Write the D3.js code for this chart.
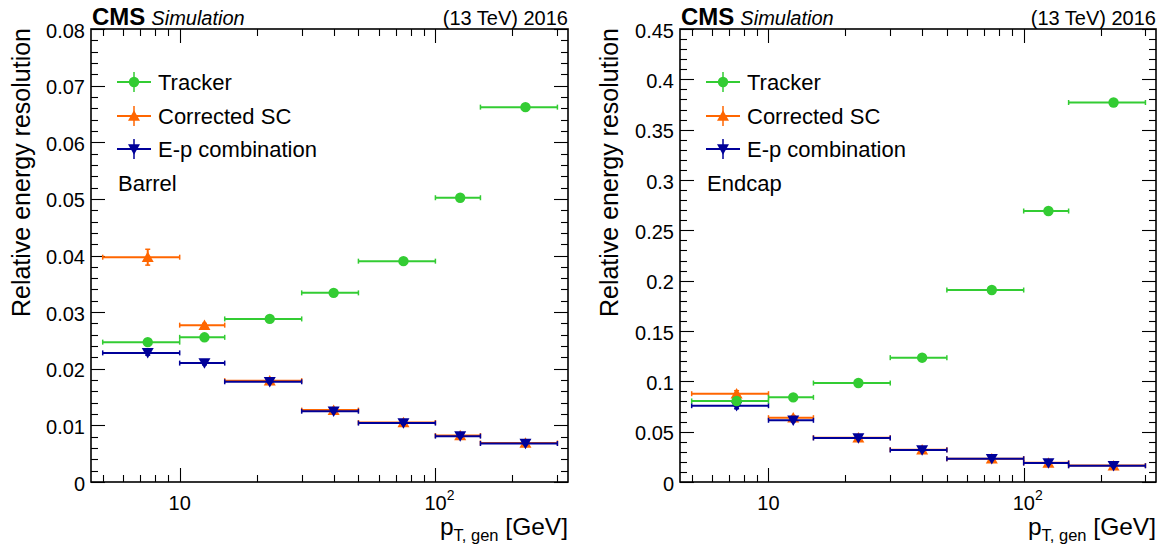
<!DOCTYPE html>
<html>
<head>
<meta charset="utf-8">
<script src="https://cdn.jsdelivr.net/npm/d3@7"></script>
<style>
  html, body { margin: 0; padding: 0; background: #fff; }
  svg { display: block; }
  text { font-family: "Liberation Sans", Arial, Helvetica, sans-serif; fill: #000; }
</style>
</head>
<body>
<svg id="chart" width="1163" height="548"></svg>
<script>
// ---------------- data ----------------
const binEdges   = [5, 10, 15, 30, 50, 100, 150, 300];
const binCenters = [7.5, 12.5, 22.5, 40, 75, 125, 225];

const seriesNames = ["Tracker", "Corrected SC", "E-p combination"];

const barrelTracker = [0.0247, 0.02555, 0.0288, 0.0334, 0.0390, 0.0502, 0.0662];
const barrelSC      = [0.0397, 0.0277, 0.0179, 0.0127, 0.0105, 0.0082, 0.0069];
const barrelEp      = [0.0228, 0.0210, 0.0177, 0.0125, 0.0104, 0.0081, 0.0068];
const barrelSCErr   = [0.0014, 0.0003, 0.0002, 0.0002, 0.0002, 0.0002, 0.0002];
const barrelEpErr   = [0.0004, 0.0003, 0.0002, 0.0002, 0.0002, 0.0002, 0.0002];
const barrelTrErr   = [0.0002, 0.0002, 0.0002, 0.0002, 0.0002, 0.0002, 0.0002];

const endcapTracker = [0.0805, 0.0841, 0.0983, 0.1235, 0.1907, 0.2692, 0.3770];
const endcapSC      = [0.0877, 0.0639, 0.0440, 0.0321, 0.0232, 0.0190, 0.0163];
const endcapEp      = [0.0758, 0.0613, 0.0437, 0.0318, 0.0231, 0.0188, 0.0161];
const endcapSCErr   = [0.0030, 0.0020, 0.0010, 0.0010, 0.0008, 0.0008, 0.0008];
const endcapEpErr   = [0.0030, 0.0015, 0.0010, 0.0010, 0.0008, 0.0008, 0.0008];
const endcapTrErr   = [0.0010, 0.0010, 0.0010, 0.0010, 0.0010, 0.0010, 0.0010];

const barrelYTicks  = [0, 0.01, 0.02, 0.03, 0.04, 0.05, 0.06, 0.07, 0.08];
const barrelYLabels = ["0", "0.01", "0.02", "0.03", "0.04", "0.05", "0.06", "0.07", "0.08"];
const endcapYTicks  = [0, 0.05, 0.1, 0.15, 0.2, 0.25, 0.3, 0.35, 0.4, 0.45];
const endcapYLabels = ["0", "0.05", "0.1", "0.15", "0.2", "0.25", "0.3", "0.35", "0.4", "0.45"];

const xMajorTicks = [10, 100];
const xMinorTicks = [5, 6, 7, 8, 9, 20, 30, 40, 50, 60, 70, 80, 90, 200, 300];
const xDomain = [4.5, 330];

// ---------------- style ----------------
const COLORS = { tracker: "#33cc33", sc: "#ff6600", ep: "#000099" };
const FONT = '"Liberation Sans", Arial, Helvetica, sans-serif';

const svg = d3.select("#chart");

const panels = [
  { left: 91, right: 568, top: 29, bottom: 482, yMax: 0.08, yMinorStep: 0.002,
    yTicks: barrelYTicks, yLabels: barrelYLabels, region: "Barrel", titleX: 30,
    tracker: barrelTracker, sc: barrelSC, ep: barrelEp,
    trErr: barrelTrErr, scErr: barrelSCErr, epErr: barrelEpErr },
  { left: 680, right: 1156, top: 29, bottom: 482, yMax: 0.45, yMinorStep: 0.01,
    yTicks: endcapYTicks, yLabels: endcapYLabels, region: "Endcap", titleX: 618,
    tracker: endcapTracker, sc: endcapSC, ep: endcapEp,
    trErr: endcapTrErr, scErr: endcapSCErr, epErr: endcapEpErr }
];

function drawPanel(p) {
  const g = svg.append("g");
  const x = d3.scaleLog().domain(xDomain).range([p.left, p.right]);
  const y = d3.scaleLinear().domain([0, p.yMax]).range([p.bottom, p.top]);

  const W = p.right - p.left, H = p.bottom - p.top;

  const yMinor = d3.range(0, p.yMax + 1e-9, p.yMinorStep);
  const tickG = g.append("g").attr("stroke", "#000").attr("stroke-width", 1.1);
  yMinor.forEach(v => {
    const isMajor = p.yTicks.some(t => Math.abs(t - v) < p.yMinorStep / 10);
    const len = isMajor ? 14 : 7;
    const yy = Math.round(y(v)) + 0.5;
    tickG.append("line").attr("x1", p.left).attr("x2", p.left + len).attr("y1", yy).attr("y2", yy);
    tickG.append("line").attr("x1", p.right).attr("x2", p.right - len).attr("y1", yy).attr("y2", yy);
  });
  xMinorTicks.concat(xMajorTicks).forEach(v => {
    const isMajor = xMajorTicks.includes(v);
    const len = isMajor ? 14 : 7;
    const xx = Math.round(x(v)) + 0.5;
    tickG.append("line").attr("x1", xx).attr("x2", xx).attr("y1", p.bottom).attr("y2", p.bottom - len);
    tickG.append("line").attr("x1", xx).attr("x2", xx).attr("y1", p.top).attr("y2", p.top + len);
  });

  // y tick labels
  const yLab = d3.axisLeft(y).tickValues(p.yTicks).tickSize(0).tickPadding(0)
    .tickFormat((d, i) => p.yLabels[i]);
  const yl = g.append("g").attr("transform", `translate(${p.left - 6},0)`).call(yLab);
  yl.select(".domain").remove();
  yl.selectAll("text").attr("font-family", FONT).attr("font-size", 20).attr("fill", "#000")
    .attr("dy", "0.4em");

  // x tick labels
  const xl = g.append("g");
  xl.append("text").attr("x", x(10)).attr("y", 510).attr("text-anchor", "middle")
    .attr("font-size", 20).text("10");
  const t2 = xl.append("text").attr("x", x(100) + 4).attr("y", 510).attr("text-anchor", "middle")
    .attr("font-size", 20);
  t2.append("tspan").text("10");
  t2.append("tspan").attr("font-size", 14).attr("dy", -10).text("2");

  // frame
  g.append("rect").attr("x", p.left).attr("y", p.top).attr("width", W).attr("height", H)
    .attr("fill", "none").attr("stroke", "#000").attr("stroke-width", 1.6);

  // ----- data -----
  const series = [
    { key: "sc", vals: p.sc, err: p.scErr, color: COLORS.sc, marker: "up" },
    { key: "ep", vals: p.ep, err: p.epErr, color: COLORS.ep, marker: "down" },
    { key: "tracker", vals: p.tracker, err: p.trErr, color: COLORS.tracker, marker: "circle" }
  ];
  const dg = g.append("g");
  series.forEach(s => {
    const sg = dg.append("g");
    s.vals.forEach((v, i) => {
      const x0 = x(binEdges[i]), x1 = x(binEdges[i + 1]), xc = x(binCenters[i]);
      const yc = y(v);
      sg.append("line").attr("x1", x0).attr("x2", x1).attr("y1", yc).attr("y2", yc)
        .attr("stroke", s.color).attr("stroke-width", 2);
      [x0, x1].forEach(xe => sg.append("line").attr("x1", xe).attr("x2", xe)
        .attr("y1", yc - 2.5).attr("y2", yc + 2.5).attr("stroke", s.color).attr("stroke-width", 1.5));
      const ylo = y(v - s.err[i]), yhi = y(v + s.err[i]);
      sg.append("line").attr("x1", xc).attr("x2", xc).attr("y1", ylo).attr("y2", yhi)
        .attr("stroke", s.color).attr("stroke-width", 2);
      [ylo, yhi].forEach(ye => sg.append("line").attr("x1", xc - 2.5).attr("x2", xc + 2.5)
        .attr("y1", ye).attr("y2", ye).attr("stroke", s.color).attr("stroke-width", 1.5));
      drawMarker(sg, s.marker, xc, yc, s.color);
    });
  });

  // ----- legend -----
  const legend = [
    { name: seriesNames[0], color: COLORS.tracker, marker: "circle", y: 82 },
    { name: seriesNames[1], color: COLORS.sc, marker: "up", y: 116 },
    { name: seriesNames[2], color: COLORS.ep, marker: "down", y: 149 }
  ];
  const lg = g.append("g");
  legend.forEach(e => {
    const mx = p.left + 43;
    lg.append("line").attr("x1", mx - 17).attr("x2", mx + 17).attr("y1", e.y).attr("y2", e.y)
      .attr("stroke", e.color).attr("stroke-width", 2);
    lg.append("line").attr("x1", mx).attr("x2", mx).attr("y1", e.y - 10).attr("y2", e.y + 10)
      .attr("stroke", e.color).attr("stroke-width", 1.5);
    drawMarker(lg, e.marker, mx, e.y, e.color);
    lg.append("text").attr("x", p.left + 67).attr("y", e.y).attr("dy", "0.36em")
      .attr("font-size", 22).text(e.name);
  });
  g.append("text").attr("x", p.left + 27).attr("y", 183).attr("dy", "0.36em")
    .attr("font-size", 22).text(p.region);

  // ----- header -----
  const hd = g.append("text").attr("x", p.left + 1).attr("y", 25);
  hd.append("tspan").attr("font-weight", "bold").attr("font-size", 24).text("CMS");
  hd.append("tspan").attr("font-style", "italic").attr("font-size", 20).attr("dx", 6).text("Simulation");
  g.append("text").attr("x", p.right).attr("y", 25).attr("text-anchor", "end")
    .attr("font-size", 20).text("(13 TeV) 2016");

  // ----- axis titles -----
  g.append("text").attr("transform", `translate(${p.titleX},${p.top - 1}) rotate(-90)`)
    .attr("text-anchor", "end").attr("font-size", 25).text("Relative energy resolution");

  const xt = g.append("text").attr("x", p.right).attr("y", 535).attr("text-anchor", "end")
    .attr("font-size", 24.5);
  xt.append("tspan").text("p");
  xt.append("tspan").attr("font-size", 16.5).attr("dy", 6).text("T, gen");
  xt.append("tspan").attr("dy", -6).text(" [GeV]");
}

function drawMarker(sel, type, cx, cy, color) {
  if (type === "circle") {
    sel.append("circle").attr("cx", cx).attr("cy", cy).attr("r", 5.2).attr("fill", color);
  } else {
    const s = 6;
    const pts = type === "up"
      ? [[cx - s, cy + s * 0.8], [cx + s, cy + s * 0.8], [cx, cy - s * 0.95]]
      : [[cx - s, cy - s * 0.8], [cx + s, cy - s * 0.8], [cx, cy + s * 0.95]];
    sel.append("polygon").attr("points", pts.map(q => q.join(",")).join(" ")).attr("fill", color);
  }
}

panels.forEach(drawPanel);
</script>
</body>
</html>
